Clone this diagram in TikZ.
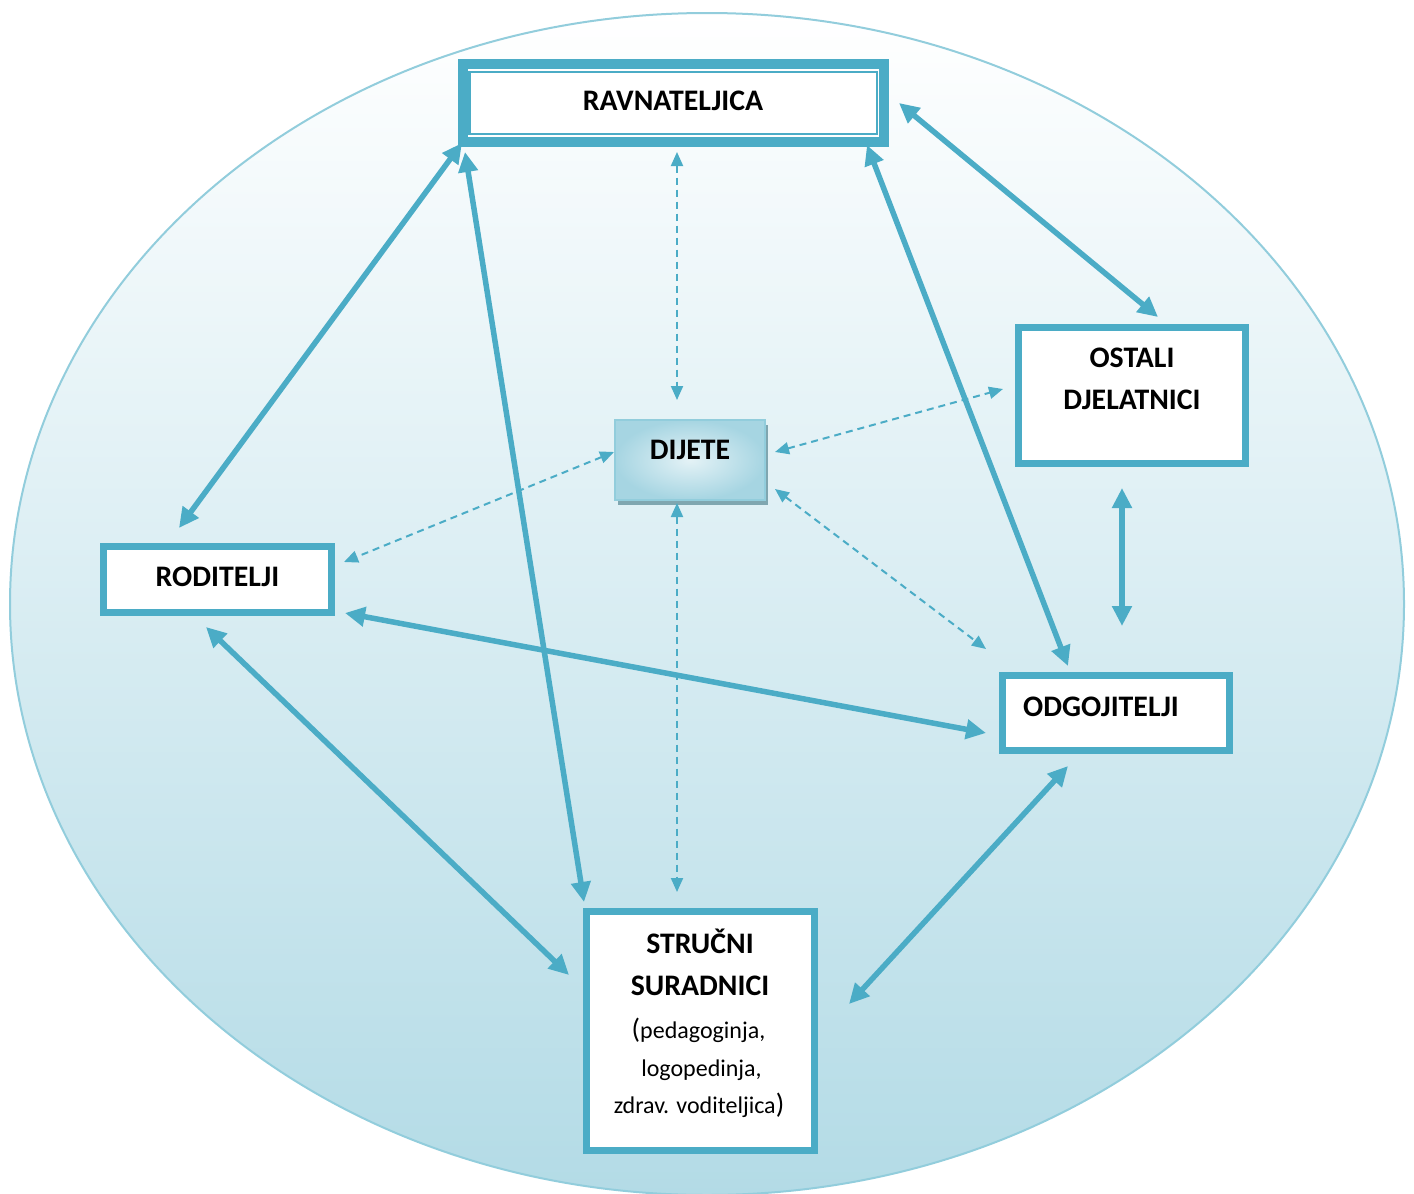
\documentclass[tikz,border=0pt]{standalone}
\usepackage{fontspec}
\setmainfont{Carlito}
\usetikzlibrary{arrows.meta,calc,shadows}
\definecolor{acc}{HTML}{4BACC6}
\definecolor{ellE}{HTML}{92CDDC}
\definecolor{ellB}{HTML}{B3DBE6}
\definecolor{ellM}{HTML}{E3F0F4}
\definecolor{dijIn}{HTML}{E4F2F6}
\definecolor{dijOut}{HTML}{A6D5E2}
\definecolor{shadowc}{HTML}{7FA6B0}
\begin{document}
\begin{tikzpicture}[x=1pt,y=-1pt,
  box/.style={draw=acc, fill=white, rectangle, inner sep=0pt, outer sep=0pt},
  lbl/.style={anchor=base, inner sep=0pt, font=\fontsize{29.8}{35}\selectfont\bfseries},
  sm/.style={anchor=base, inner sep=0pt, font=\fontsize{24}{29}\selectfont},
  link/.style={draw=acc, line width=5.5pt, {Triangle[length=20pt,width=19pt]}-{Triangle[length=20pt,width=19pt]}},
  dlink/.style={draw=acc, line width=2pt, dash pattern=on 7pt off 5pt, {Triangle[length=14pt,width=12pt]}-{Triangle[length=14pt,width=12pt]}}]
\useasboundingbox (0,0) rectangle (1414,1194);
\clip (0,0) rectangle (1414,1194);
% background ellipse
\shade[top color=white, middle color=ellM, bottom color=ellB] (707,604) ellipse [x radius=697, y radius=591];
\draw[ellE, line width=2pt] (707,604) ellipse [x radius=697, y radius=591];

% boxes
\node[box, line width=10pt, minimum width=421.5pt, minimum height=78pt] (rav) at (673.25,103) {};
\draw[acc, line width=2.5pt] ($(rav.north west)+(7,8)$) rectangle ($(rav.south east)+(-7,-8)$);
\node[box, line width=7pt, minimum width=227pt, minimum height=136pt] (ost) at (1132,395.5) {};
\node[box, line width=7pt, minimum width=228pt, minimum height=66pt] (rod) at (217.5,579.5) {};
\node[box, line width=7pt, minimum width=227pt, minimum height=75pt] (odg) at (1116,713) {};
\node[box, line width=7pt, minimum width=228pt, minimum height=239pt] (str) at (700.5,1031) {};
\node[draw=ellE, line width=2pt, rectangle, inner sep=0pt, outer sep=0pt,
      inner color=dijIn, outer color=dijOut,
      drop shadow={shadow xshift=3pt, shadow yshift=-5pt, fill=shadowc, opacity=1},
      minimum width=150pt, minimum height=80pt] (dij) at (690,460) {};

% labels
\node[lbl] (ravT) at (673,110) {RAVNATELJICA};
\node[lbl] (dijT) at (690,459) {DIJETE};
\node[lbl] (ostT1) at (1132,367) {OSTALI};
\node[lbl] (ostT2) at (1132,409) {DJELATNICI};
\node[lbl] (rodT) at (217.5,586) {RODITELJI};
\node[lbl] (odgT) at (1101,716) {ODGOJITELJI};
\node[lbl] (strT1) at (700,953) {STRUČNI};
\node[lbl] (strT2) at (700,995) {SURADNICI};
\node[sm] (strT3) at (698.5,1038) {{\fontsize{28}{34}\selectfont(}pedagoginja,};
\node[sm] (strT4) at (701.5,1076) {logopedinja,};
\node[sm] (strT5) at (699,1113) {zdrav. voditeljica{\fontsize{28}{34}\selectfont)}};

% solid connectors
\draw[link] ($(rav.south west)+(-0.5,1)$) -- ($(rod.north)+(-38.5,-18.5)$);
\draw[link] ($(rav.south west)+(2.5,10)$) -- ($(str.north west)+(-2.5,-9.5)$);
\draw[link] ($(rav.south east)+(-17,3)$) -- ($(odg.north west)+(65.5,-9.5)$);
\draw[link] ($(rav.east)+(15,0)$) -- ($(ost.north)+(26,-10.5)$);
\draw[link] ($(ost.south)+(-10,24.5)$) -- ($(odg.north)+(6,-49.5)$);
\draw[link] ($(rod.south east)+(13.5,0.5)$) -- ($(odg.west)+(-16.5,20)$);
\draw[link] ($(rod.south)+(-11.5,14.5)$) -- ($(str.west)+(-17.5,-56)$);
\draw[link] ($(odg.south)+(-48,15.5)$) -- ($(str.east)+(34.5,-27)$);

% dashed connectors
\draw[dlink] ($(rav.south)+(3.75,10)$) -- ($(dij.north)+(-13,-20)$);
\draw[dlink] ($(dij.south)+(-13,3)$) -- ($(str.north)+(-23.5,-19.5)$);
\draw[dlink] ($(dij.east)+(10,-8)$) -- ($(ost.west)+(-15.5,-6.5)$);
\draw[dlink] ($(dij.west)+(-1,-8)$) -- ($(rod.east)+(12.5,-17.5)$);
\draw[dlink] ($(dij.south east)+(10,-11)$) -- ($(odg.north west)+(-16.5,-26.5)$);
\end{tikzpicture}
\end{document}
